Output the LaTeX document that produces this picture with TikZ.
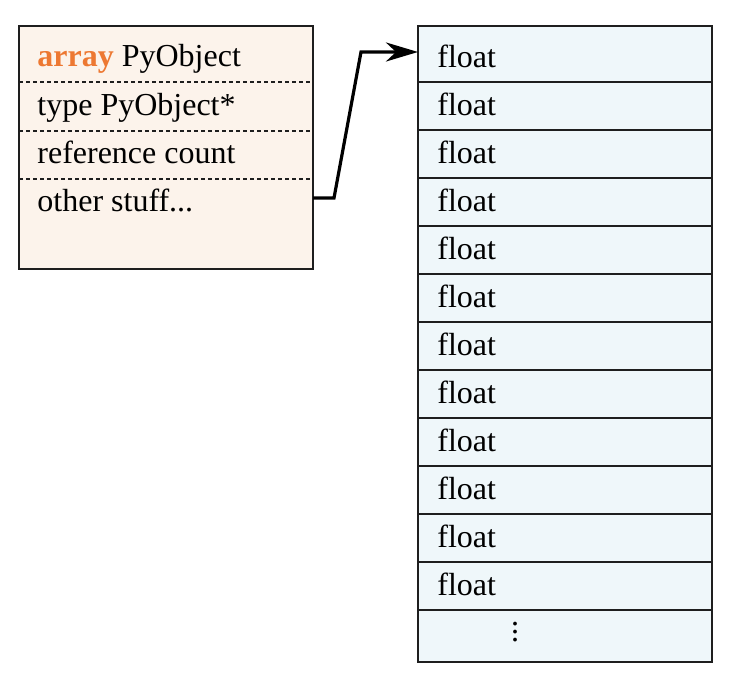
\documentclass[tikz,border=0pt]{standalone}
\usepackage{fontspec}
\setmainfont{Liberation Serif}
\usetikzlibrary{arrows.meta,calc}
\definecolor{peach}{RGB}{252,243,235}
\definecolor{ice}{RGB}{239,247,250}
\definecolor{orng}{RGB}{237,120,50}
\definecolor{edgec}{RGB}{30,30,30}
\begin{document}
\begin{tikzpicture}[x=0.5pt,y=-0.5pt,
  cell/.style={draw=edgec, line width=1pt, fill=ice, minimum width=147pt, inner sep=0pt, outer sep=0pt, anchor=north west},
  lbl/.style={anchor=base west, inner sep=0pt, font=\fontsize{16}{19}\selectfont},
  sepline/.style={draw=edgec, line width=0.6pt, dash pattern=on 2pt off 1.5pt},
  link/.style={draw=black, line width=1.6pt, -{Stealth[length=16pt,width=9.5pt,inset=5pt]}}]
\useasboundingbox (0,0) rectangle (734,688);
% left object box
\node[draw=edgec, line width=1pt, fill=peach, minimum width=147pt, minimum height=121.5pt, inner sep=0pt, outer sep=0pt, anchor=north west] (L) at (19,26) {};
\draw[sepline] (19,82) -- (313,82);
\draw[sepline] (19,131) -- (313,131);
\draw[sepline] (19,179) -- (313,179);
\node[lbl] (a1) at (37,67) {\textcolor{orng}{\textbf{array}} PyObject};
\node[lbl] (a2) at (37,116) {type PyObject*};
\node[lbl] (a3) at (37,164) {reference count};
\node[lbl] (a4) at (37,212) {other stuff...};
% right array of floats
\node[cell, minimum height=28pt] (f1) at (418,26) {};
\foreach \i [remember=\i as \j (initially 1)] in {2,...,12} {
  \node[cell, minimum height=24pt] (f\i) at (f\j.south west) {};
}
\node[cell, minimum height=26pt] (f13) at (f12.south west) {};
\node[lbl] (t1) at (437,68) {float};
\foreach \i in {2,...,12} {
  \node[lbl] (t\i) at (437,{130-14+48*(\i-2)}) {float};
}
\node[anchor=base, inner sep=0pt, font=\fontsize{16}{19}\selectfont] (dots) at (515,642) {\vdots};
% pointer
\coordinate (s) at (313,198);
\coordinate (b1) at (334,198);
\coordinate (b2) at (361,52);
\draw[link] (s) -- (b1) -- (b2) -- ($(f1.west)+(0,-2)$);
\end{tikzpicture}
\end{document}
